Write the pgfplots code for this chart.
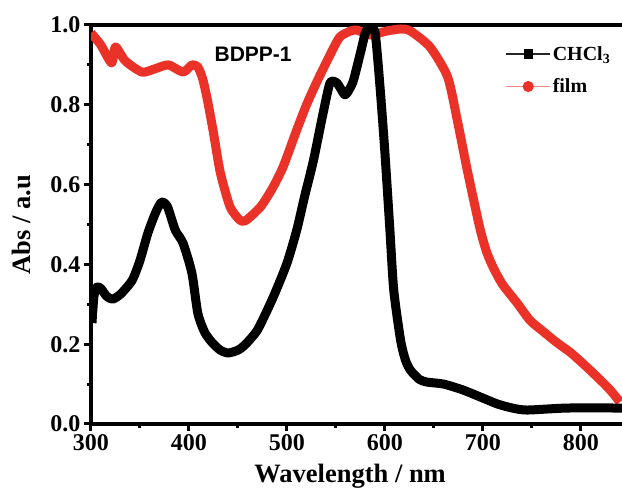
\documentclass[border=0pt]{standalone}
\usepackage{fontspec}
\setmainfont{Liberation Serif}
\newfontfamily\arialfont{Liberation Sans}
\usepackage{pgfplots}
\pgfplotsset{compat=1.18}
\definecolor{filmred}{RGB}{235,50,40}
\begin{document}
\begin{tikzpicture}
\begin{axis}[
  scale only axis, width=531pt, height=399pt,
  xmin=300, xmax=842, ymin=0, ymax=1,
  axis x line*=box, axis y line*=left,
  axis line style={line width=3.5pt, line cap=rect},
  xtick pos=left, ytick pos=left,
  tick align=outside,
  major tick length=7pt, minor tick length=4pt,
  tick style={line width=3pt, black},
  xtick={300,400,500,600,700,800},
  minor xtick={350,450,550,650,750},
  ytick={0,0.2,0.4,0.6,0.8,1.0},
  minor ytick={0.1,0.3,0.5,0.7,0.9},
  /pgf/number format/assume math mode=true,
  ticklabel style={font=\fontsize{24}{24}\selectfont\bfseries},
  yticklabel style={/pgf/number format/.cd, fixed, fixed zerofill, precision=1},
  xticklabel style={/pgf/number format/.cd, fixed, precision=0, 1000 sep={}},
  xlabel={Wavelength / nm},
  ylabel={Abs / a.u},
  label style={font=\fontsize{26.5}{26.5}\selectfont\bfseries},
  xlabel style={at={(axis description cs:0.488,-0.146)}, anchor=base},
  ylabel style={at={(axis description cs:-0.13,0.5)}, anchor=center, rotate=0},
  legend style={at={(axis cs:720,0.957)}, anchor=north west, draw=none, fill=none,
    font=\fontsize{20}{20}\selectfont\bfseries, row sep=13pt},
  legend cell align=left,
  legend image code/.code={\draw[mark repeat=2,mark phase=2,#1] plot coordinates {(0pt,0pt) (22pt,0pt) (44pt,0pt)};},
]
\coordinate (ll) at (rel axis cs:0,0);
\coordinate (ur) at (rel axis cs:1,1);
\addlegendimage{black!85, line width=1.1pt, mark=square*, mark size=4pt, mark options={black}}
\addlegendentry{CHCl\textsubscript{3}}
\addlegendimage{filmred!60, line width=1.1pt, mark=*, mark size=5pt, mark options={filmred}}
\addlegendentry{film}

\addplot[forget plot, filmred, line width=9pt, line join=round, smooth, tension=0.4] coordinates {
(300,0.98) (310,0.95) (321,0.905) (325,0.945) (335,0.91) (352,0.882) (365,0.89)
(379,0.90) (394,0.882) (403,0.90) (409,0.895) (414,0.865) (419,0.81) (425,0.73)
(432,0.63) (442,0.544) (452,0.511) (458,0.51) (473,0.544) (485,0.59) (496,0.644)
(510,0.737) (520,0.80) (531,0.86) (545,0.93) (554,0.97) (565,0.985) (572,0.987)
(585,0.975) (602,0.985) (616,0.99) (626,0.985) (646,0.945) (664,0.87) (674,0.76)
(684,0.637) (697,0.49) (704,0.43) (711,0.39) (720,0.35) (735,0.303) (748,0.26)
(760,0.235) (775,0.205) (790,0.178) (805,0.145) (820,0.11) (830,0.085) (840,0.055)
};
\addplot[forget plot, black, line width=9pt, line join=round, smooth, tension=0.4] coordinates {
(301,0.253) (303,0.32) (306,0.343) (310,0.34) (316,0.32) (322,0.313) (330,0.325)
(342,0.36) (350,0.41) (358,0.478) (366,0.53) (372,0.556) (378,0.545) (386,0.486)
(394,0.453) (403,0.378) (409,0.278) (416,0.23) (424,0.203) (432,0.185) (440,0.178)
(450,0.185) (457,0.198) (470,0.236) (486,0.318) (500,0.403) (510,0.486) (518,0.57)
(527,0.66) (537,0.78) (544,0.855) (551,0.855) (559,0.825) (564,0.84) (568,0.862)
(575,0.93) (580,0.98) (584,0.995) (590,0.98) (595,0.845) (600,0.68) (605,0.49)
(609,0.336) (616,0.21) (621,0.16) (626,0.135) (635,0.112) (643,0.105) (660,0.10)
(680,0.085) (700,0.065) (715,0.05) (730,0.04) (745,0.035) (786,0.04) (842,0.04)
};
\node[font=\arialfont\bfseries\fontsize{21}{21}\selectfont] at (axis cs:465.5,0.927) {BDPP-1};
\end{axis}
\pgfresetboundingbox
\path ([shift={(-91pt,-66pt)}]ll) rectangle ([shift={(0pt,25pt)}]ur);
\end{tikzpicture}
\end{document}
